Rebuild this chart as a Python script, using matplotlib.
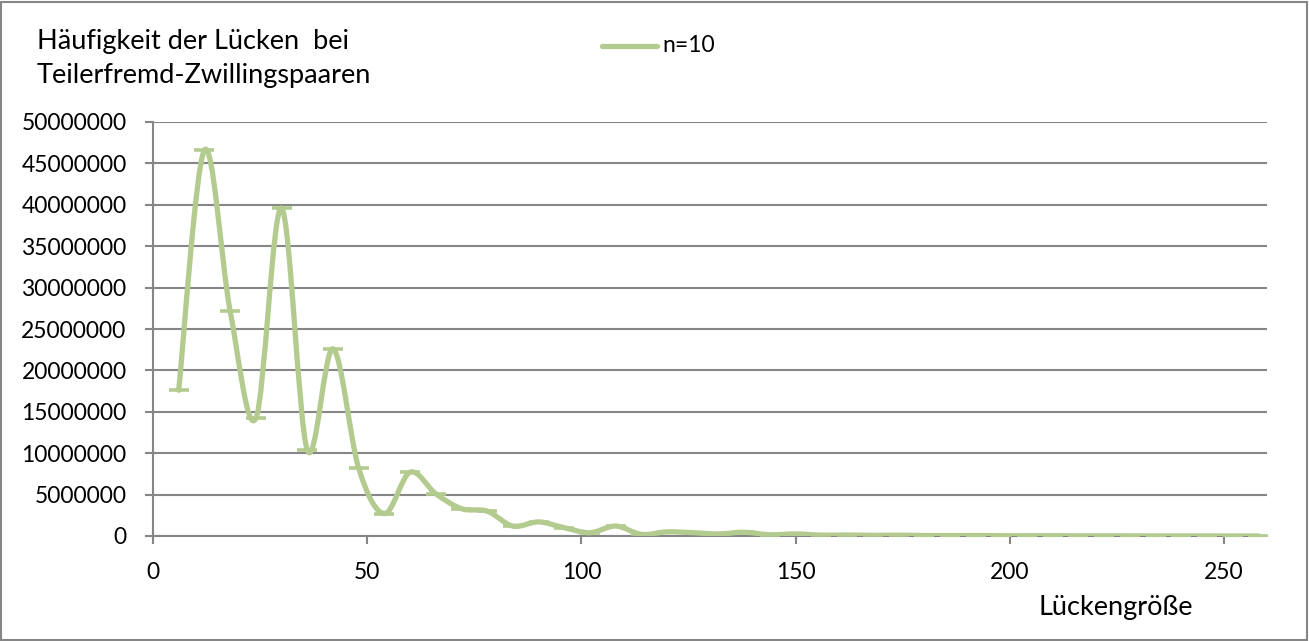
import numpy as np
import matplotlib
matplotlib.use("Agg")
import matplotlib.pyplot as plt
from matplotlib.path import Path
from matplotlib.patches import PathPatch, Rectangle
from matplotlib.lines import Line2D
from matplotlib.ticker import FuncFormatter

# gap sizes (multiples of 6) and how often each occurs
GAPS = list(range(6, 259, 6))
COUNTS = [17600000, 46600000, 27200000, 14200000, 39600000, 10400000,
          22600000, 8200000, 2700000, 7700000, 5100000, 3300000,
          3000000, 1200000, 1700000, 1000000, 400000, 1200000,
          200000, 500000, 400000, 250000, 450000, 150000,
          250000, 100000, 120000, 80000, 100000, 60000,
          50000, 60000, 40000, 30000, 30000, 20000,
          20000, 15000, 10000, 10000, 8000, 5000, 4000]

TITLE = "Häufigkeit der Lücken  bei\nTeilerfremd-Zwillingspaaren"
SERIES = "n=10"
XLABEL = "Lückengröße"

GREEN = "#b4cb8f"
GRID = "#868686"

plt.rcParams["font.family"] = ["Lato", "DejaVu Sans"]
FS = 16.5       # tick labels, legend
FS_T = 19.5     # chart title, axis title

W, H = 1309, 641
fig = plt.figure(figsize=(W / 100, H / 100), dpi=100)
ax = fig.add_axes([153 / W, 1 - 536 / H, (1267 - 153) / W, (536 - 122) / H])


def smooth_path(xs, ys):
    # smoothed line: cubic Bezier segments with Catmull-Rom handles
    pts = np.column_stack([xs, ys]).astype(float)
    verts = [pts[0]]
    codes = [Path.MOVETO]
    n = len(pts)
    for i in range(n - 1):
        p0 = pts[max(i - 1, 0)]
        p1 = pts[i]
        p2 = pts[i + 1]
        p3 = pts[min(i + 2, n - 1)]
        c1 = p1 + (p2 - p0) / 6.0
        c2 = p2 - (p3 - p1) / 6.0
        verts += [c1, c2, p2]
        codes += [Path.CURVE4] * 3
    return Path(verts, codes)


ax.add_patch(PathPatch(smooth_path(GAPS, COUNTS), facecolor="none",
                       edgecolor=GREEN, lw=3.8, capstyle="round",
                       joinstyle="round", zorder=3))
ax.plot(GAPS, COUNTS, ls="none", marker="_", ms=14, mew=2.6,
        color=GREEN, zorder=4)

ax.set_xlim(0, 260)
ax.set_ylim(0, 50000000)
ax.set_xticks([0, 50, 100, 150, 200, 250])
ax.set_yticks(np.arange(0, 50000001, 5000000))
ax.yaxis.set_major_formatter(FuncFormatter(lambda v, p: f"{v:.0f}"))

ax.grid(axis="y", color=GRID, lw=1.5)
ax.set_axisbelow(True)
for s in ("top", "right"):
    ax.spines[s].set_visible(False)
for s in ("left", "bottom"):
    ax.spines[s].set_color(GRID)
    ax.spines[s].set_linewidth(1.5)
ax.tick_params(axis="both", colors=GRID, width=1.5, length=6,
               labelsize=FS, labelcolor="black")
ax.tick_params(axis="x", pad=13)
ax.tick_params(axis="y", pad=13)

fig.text(1116 / W, 1 - 608 / H, XLABEL, ha="center", va="center",
         fontsize=FS_T)
fig.text(37 / W, 1 - 58 / H, TITLE, ha="left", va="center",
         fontsize=FS_T, linespacing=1.45)

# legend entry: line sample + label
fig.add_artist(Line2D([602 / W, 657 / W], [1 - 46 / H, 1 - 46 / H],
                      transform=fig.transFigure, color=GREEN, lw=3.8,
                      solid_capstyle="round"))
fig.text(662 / W, 1 - 46 / H, SERIES, ha="left", va="center", fontsize=FS)

# chart border
fig.add_artist(Rectangle((1 / W, 1 / H), (W - 3) / W, (H - 3) / H,
                         transform=fig.transFigure, fill=False,
                         edgecolor=GRID, lw=1.5))

fig.savefig("out.png", dpi=100)
